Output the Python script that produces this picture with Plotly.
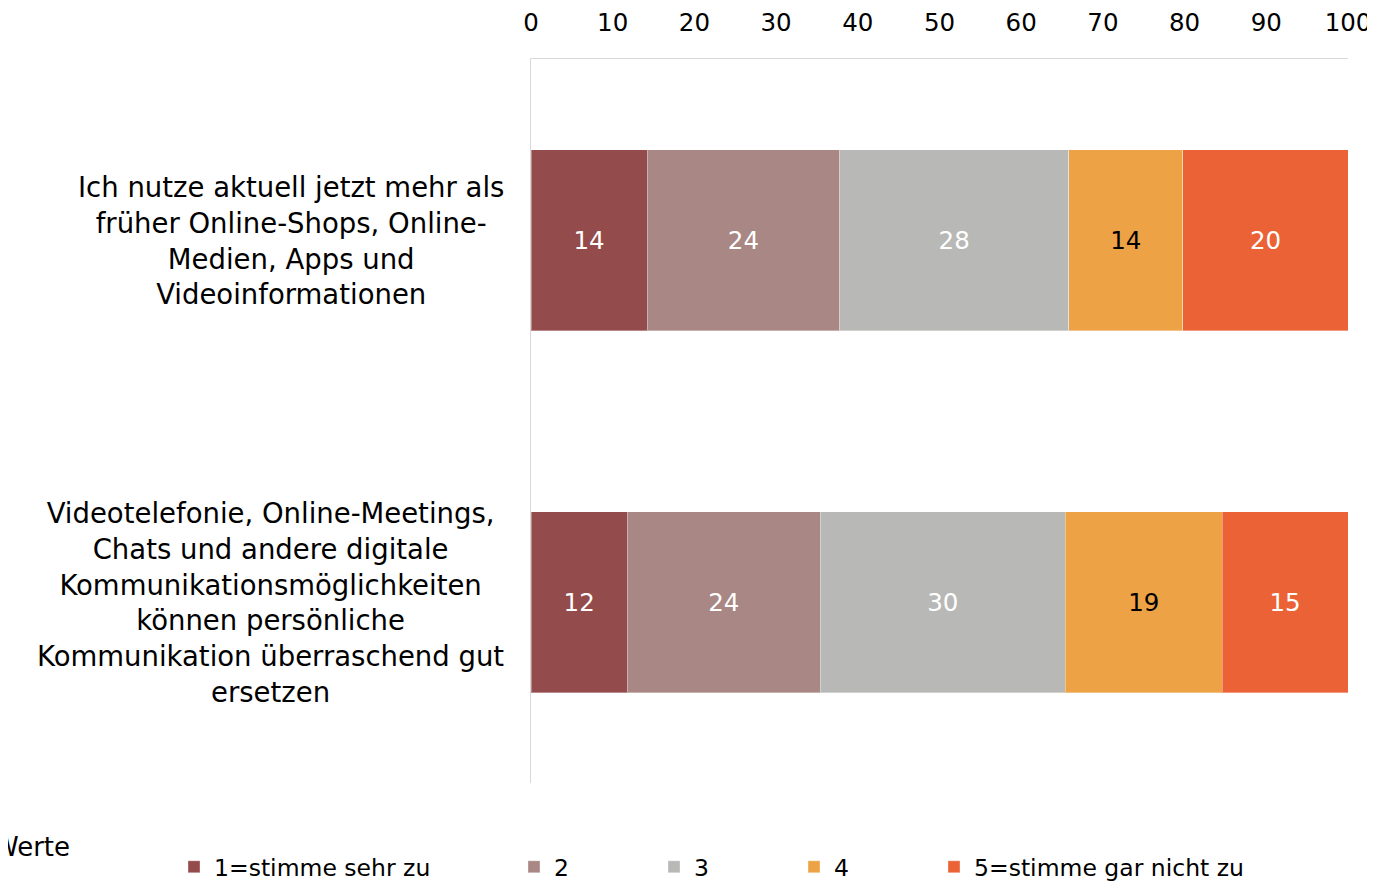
import plotly.graph_objects as go

categories = [
    "Ich nutze aktuell jetzt mehr als<br>früher Online-Shops, Online-<br>Medien, Apps und<br>Videoinformationen",
    "Videotelefonie, Online-Meetings,<br>Chats und andere digitale<br>Kommunikationsmöglichkeiten<br>können persönliche<br>Kommunikation überraschend gut<br>ersetzen",
]
series_names = ["1=stimme sehr zu", "2", "3", "4", "5=stimme gar nicht zu"]
s1 = [14.2, 11.8]
s2 = [23.6, 23.6]
s3 = [28.0, 30.0]
s4 = [14.0, 19.2]
s5 = [20.2, 15.4]
series_values = [s1, s2, s3, s4, s5]
colors = ["#944B4B", "#A88784", "#B8B9B6", "#EDA246", "#EB6236"]
text_colors = ["#FFFFFF", "#FFFFFF", "#FFFFFF", "#000000", "#FFFFFF"]
x_ticks = list(range(0, 101, 10))
cat_ids = ["c1", "c2"]

FONT = "'DejaVu Sans', sans-serif"
FS_CAT = 27.5
FS_NUM = 24.5
FS_LEG = 23.5

# page body has an 8px margin; the figure is sized so the plot lands where the reference's does
OFF = 8
W, H = 1375, 881 - OFF
PL, PR, PT, PB = 531, 1348, 59, 783  # plot area in page pixels
PW, PH = PR - PL, PB - PT


def px(xpage):
    return (xpage - PL) / PW


def py(ypage):
    return (PB - ypage) / PH


legend_of = ["legend", "legend2", "legend2", "legend2", "legend3"]

fig = go.Figure()
for i, (name, vals) in enumerate(zip(series_names, series_values)):
    fig.add_trace(go.Bar(
        x=vals, y=cat_ids, orientation="h", name=name,
        marker=dict(color=colors[i], line=dict(color="rgba(255,255,255,0.35)", width=1)),
        texttemplate="%{x:.0f}", textposition="inside", insidetextanchor="middle",
        textangle=0,
        textfont=dict(color=text_colors[i], size=FS_NUM, family=FONT),
        legend=legend_of[i],
        hoverinfo="skip",
    ))

for cid, label in zip(cat_ids, categories):
    fig.add_annotation(
        xref="paper", yref="y", x=px(506), y=cid, text=label,
        xanchor="right", yanchor="middle", align="center", showarrow=False,
        font=dict(size=FS_CAT, color="#000000", family=FONT),
    )

fig.add_annotation(
    xref="paper", yref="paper", x=px(72), y=py(847), text="Werte",
    xanchor="right", yanchor="middle", showarrow=False,
    font=dict(size=26, color="#000000", family=FONT),
)

leg_common = dict(orientation="h", xanchor="left", y=py(867), yanchor="middle",
                  traceorder="normal", font=dict(size=FS_LEG, family=FONT),
                  bgcolor="rgba(0,0,0,0)", itemclick=False, itemdoubleclick=False)

fig.update_layout(
    width=W, height=H,
    margin=dict(l=PL - OFF, r=W - (PR - OFF), t=PT - OFF, b=H - (PB - OFF), autoexpand=False),
    paper_bgcolor="white", plot_bgcolor="white",
    barmode="stack", bargap=0.5,
    font=dict(family=FONT, size=FS_NUM, color="#000000"),
    showlegend=True,
    legend=dict(x=px(174), **leg_common),
    legend2=dict(x=px(514), entrywidth=95, entrywidthmode="pixels", **leg_common),
    legend3=dict(x=px(934), **leg_common),
    xaxis=dict(side="top", range=[0, 100], tickvals=x_ticks, showgrid=False,
               zeroline=False, showline=True, linecolor="#D9D9D9", linewidth=1,
               ticks="", ticklabelstandoff=17, automargin=False,
               tickfont=dict(size=FS_NUM, family=FONT, color="#000000")),
    yaxis=dict(autorange="reversed", showticklabels=False, showgrid=False,
               zeroline=False, showline=True, linecolor="#D9D9D9", linewidth=1,
               ticks="", automargin=False),
)

fig.write_html("out.html")
